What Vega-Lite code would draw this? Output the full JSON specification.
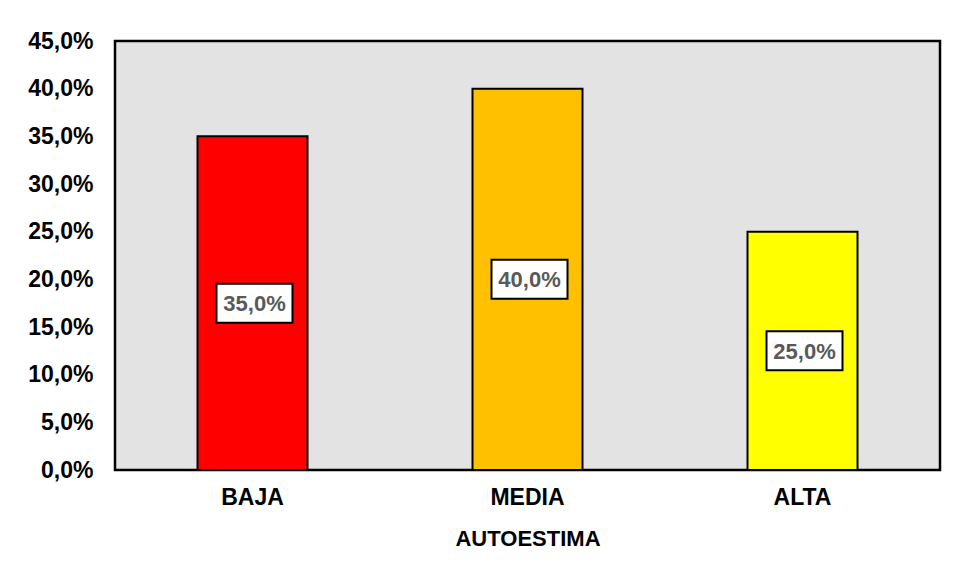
{
  "$schema": "https://vega.github.io/schema/vega-lite/v6.json",
  "width": 825,
  "height": 429,
  "autosize": "none",
  "padding": {"left": 115, "top": 41, "right": 14, "bottom": 109},
  "background": "white",
  "config": {
    "locale": {"number": {"decimal": ",", "thousands": ".", "grouping": [3], "currency": ["", " €"]}},
    "view": {"stroke": "#000000", "strokeWidth": 2.5, "fill": "#E3E3E3"},
    "axis": {
      "labelFont": "Liberation Sans",
      "titleFont": "Liberation Sans",
      "labelFontWeight": "bold",
      "titleFontWeight": "bold",
      "labelColor": "#000000",
      "titleColor": "#000000",
      "domain": false,
      "ticks": false,
      "grid": false
    }
  },
  "data": {
    "values": [
      {"nivel": "BAJA", "porcentaje": 0.35},
      {"nivel": "MEDIA", "porcentaje": 0.40},
      {"nivel": "ALTA", "porcentaje": 0.25}
    ]
  },
  "layer": [
    {
      "mark": {"type": "bar", "stroke": "#000000", "strokeWidth": 2, "width": {"band": 0.4}},
      "encoding": {
        "x": {
          "field": "nivel", "type": "nominal", "sort": ["BAJA", "MEDIA", "ALTA"],
          "scale": {"paddingInner": 0, "paddingOuter": 0},
          "axis": {"title": "AUTOESTIMA", "labelAngle": 0, "labelFontSize": 23, "titleFontSize": 22, "labelPadding": 16, "titlePadding": 19}
        },
        "y": {
          "field": "porcentaje", "type": "quantitative",
          "scale": {"domain": [0, 0.45], "nice": false},
          "axis": {"title": null, "format": ".1%", "values": [0, 0.05, 0.1, 0.15, 0.2, 0.25, 0.3, 0.35, 0.4, 0.45], "labelFontSize": 23, "labelPadding": 22}
        },
        "color": {
          "field": "nivel", "type": "nominal",
          "scale": {"domain": ["BAJA", "MEDIA", "ALTA"], "range": ["#FF0000", "#FFC000", "#FFFF00"]},
          "legend": null
        }
      }
    },
    {
      "transform": [{"calculate": "datum.porcentaje / 2", "as": "mid"}],
      "mark": {"type": "point", "shape": "M-38,-19.5H38V19.5H-38Z", "size": 4, "filled": true, "fill": "#FFFFFF", "stroke": "#000000", "strokeWidth": 2, "opacity": 1, "strokeOpacity": 1, "xOffset": 2},
      "encoding": {
        "x": {"field": "nivel", "type": "nominal", "sort": ["BAJA", "MEDIA", "ALTA"]},
        "y": {"field": "mid", "type": "quantitative"}
      }
    },
    {
      "transform": [{"calculate": "datum.porcentaje / 2", "as": "mid"}],
      "mark": {"type": "text", "font": "Liberation Sans", "fontWeight": "bold", "fontSize": 22, "color": "#595959", "xOffset": 2, "dy": 1},
      "encoding": {
        "x": {"field": "nivel", "type": "nominal", "sort": ["BAJA", "MEDIA", "ALTA"]},
        "y": {"field": "mid", "type": "quantitative"},
        "text": {"field": "porcentaje", "type": "quantitative", "format": ".1%"}
      }
    }
  ]
}
